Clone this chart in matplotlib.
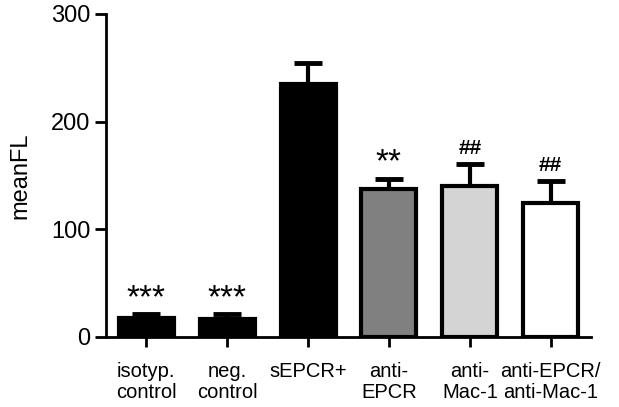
import numpy as np
import matplotlib.pyplot as plt

plt.rcParams['font.family'] = ['Liberation Sans', 'DejaVu Sans']

groups = ["isotyp.\ncontrol", "neg.\ncontrol", "sEPCR+", "anti-\nEPCR", "anti-\nMac-1", "anti-EPCR/\nanti-Mac-1"]
means = [18, 17, 235, 137, 140, 124]
errs = [3, 4, 19, 10, 21, 21]
colors = ["black", "black", "black", "#808080", "#d4d4d4", "white"]
marks = ["***", "***", "", "**", "##", "##"]

fig = plt.figure(figsize=(6.19, 4.07), dpi=100)
ax = fig.add_axes([0.171, 0.172, 0.784, 0.794])

x = np.arange(len(groups))
ax.bar(x, means, width=0.68, color=colors, edgecolor="black", linewidth=3, zorder=2)
ax.errorbar(x, means, yerr=[np.zeros(len(errs)), errs], fmt="none", ecolor="black",
            elinewidth=3, capsize=10, capthick=3.5, zorder=1)

for xi, m, e, s in zip(x, means, errs, marks):
    if not s:
        continue
    if "*" in s:
        ax.text(xi, m + e + 0, s, ha="center", va="bottom", fontsize=24)
    else:
        ax.text(xi, m + e + 5, s, ha="center", va="bottom", fontsize=15, fontweight="bold")

ax.set_xlim(-0.5, 5.5)
ax.set_ylim(0, 300)
ax.set_yticks([0, 100, 200, 300])
ax.set_xticks(x)
ax.set_xticklabels(groups, fontsize=14.5, linespacing=1.15)
ax.tick_params(axis="y", labelsize=17, width=2, length=8, direction="out", pad=3)
ax.tick_params(axis="x", width=2, length=7, direction="out", pad=11)
ax.set_ylabel("meanFL", fontsize=17, labelpad=14)

for side in ["top", "right"]:
    ax.spines[side].set_visible(False)
for side in ["left", "bottom"]:
    ax.spines[side].set_linewidth(2)

fig.savefig("out.png", dpi=100)
